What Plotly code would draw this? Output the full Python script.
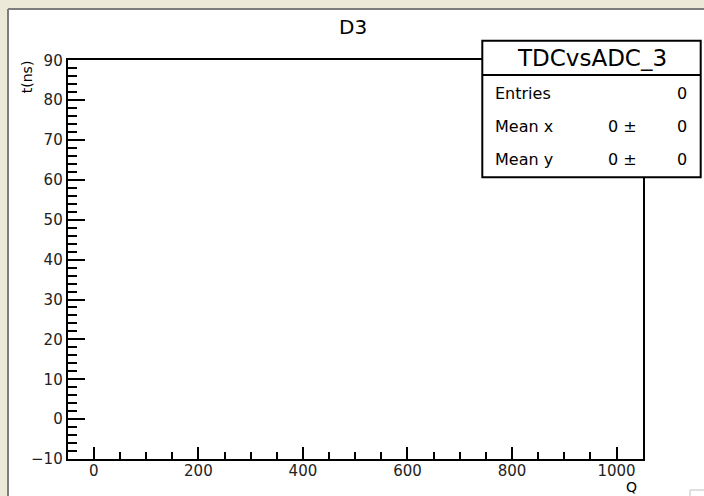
import plotly.graph_objects as go

# Histogram contents (no entries recorded for this channel)
q_values = []          # charge, Q
t_values = []          # time, t(ns)

hist_name = "TDCvsADC_3"
pad_title = "D3"
x_title = "Q"
y_title = "t(ns)"

x_range = [-50, 1050]
y_range = [-10, 90]
x_ticks = [0, 200, 400, 600, 800, 1000]
y_ticks = [-10, 0, 10, 20, 30, 40, 50, 60, 70, 80, 90]


def mean(vals):
    return sum(vals) / len(vals) if vals else 0


def mean_err(vals):
    n = len(vals)
    if n < 2:
        return 0
    m = mean(vals)
    return (sum((v - m) ** 2 for v in vals) / n) ** 0.5 / n ** 0.5


def fmt(v):
    return f"{v:g}"


entries = len(q_values)
stats_rows = [
    ("Entries", None, fmt(entries)),
    ("Mean x", fmt(mean(q_values)) + " \u00b1", fmt(mean_err(q_values))),
    ("Mean y", fmt(mean(t_values)) + " \u00b1", fmt(mean_err(t_values))),
]

W, H = 704, 496
FONT = "DejaVu Sans"


def px(x):
    return x / W


def py(y):
    return 1 - y / H


# frame edges in pixels
fx0, fx1, fy0, fy1 = 67.7, 642.7, 60.3, 459.0

fig = go.Figure()
fig.add_trace(go.Scatter(x=q_values, y=t_values, mode="markers",
                         marker=dict(color="black", size=2), showlegend=False))

axis_common = dict(
    showgrid=False, zeroline=False, showline=True, linecolor="black",
    linewidth=2, mirror=True, ticks="inside", tickcolor="black",
    tickwidth=1.5, tickfont=dict(family=FONT, size=15, color="#222"),
    automargin=False,
)

fig.update_layout(
    width=W, height=H,
    margin=dict(l=0, r=0, t=0, b=0, pad=0, autoexpand=False),
    paper_bgcolor="#ECE9D8",
    plot_bgcolor="white",
    showlegend=False,
    xaxis=dict(
        domain=[px(fx0), px(fx1)], range=x_range, tickvals=x_ticks,
        ticklen=12, ticklabelstandoff=-3,
        minor=dict(dtick=50, tick0=0, ticks="inside", ticklen=7,
                   tickcolor="black", tickwidth=1.5),
        **axis_common,
    ),
    yaxis=dict(
        domain=[py(fy1), py(fy0)], range=y_range, tickvals=y_ticks,
        ticklen=17,
        minor=dict(dtick=2, tick0=0, ticks="inside", ticklen=9,
                   tickcolor="black", tickwidth=1.5),
        **axis_common,
    ),
)

shapes = []
# pad: white area with sunken grey border
shapes.append(dict(type="rect", xref="paper", yref="paper", layer="below",
                   x0=px(8), x1=px(W + 5), y0=py(H + 5), y1=py(9),
                   fillcolor="white", line=dict(width=0)))
shapes.append(dict(type="line", xref="paper", yref="paper", layer="below",
                   x0=px(8), x1=px(W + 5), y0=py(9), y1=py(9),
                   line=dict(color="#7d7d7d", width=2)))
shapes.append(dict(type="line", xref="paper", yref="paper", layer="below",
                   x0=px(8), x1=px(8), y0=py(9), y1=py(H + 5),
                   line=dict(color="#7d7d7d", width=2)))
# small neighbouring pad corner at lower right
shapes.append(dict(type="line", xref="paper", yref="paper",
                   x0=px(690), x1=px(W + 2), y0=py(490), y1=py(490),
                   line=dict(color="#d4d4d4", width=1.5)))
shapes.append(dict(type="line", xref="paper", yref="paper",
                   x0=px(690), x1=px(690), y0=py(490), y1=py(H + 2),
                   line=dict(color="#d4d4d4", width=1.5)))

# statistics box
sx0, sx1, sy0, sy1, ssep = 482.3, 700.7, 40.7, 177.3, 75.0
shapes.append(dict(type="rect", xref="paper", yref="paper",
                   x0=px(sx0), x1=px(sx1), y0=py(sy1), y1=py(sy0),
                   fillcolor="white", line=dict(color="black", width=2)))
shapes.append(dict(type="line", xref="paper", yref="paper",
                   x0=px(sx0), x1=px(sx1), y0=py(ssep), y1=py(ssep),
                   line=dict(color="black", width=2)))

annotations = []


def text(s, x, y, size, xanchor="center", textangle=0):
    annotations.append(dict(text=s, xref="paper", yref="paper",
                            x=px(x), y=py(y), xanchor=xanchor, yanchor="middle",
                            showarrow=False, textangle=textangle,
                            font=dict(family=FONT, size=size, color="black")))


text(pad_title, 352.7, 26.5, 20)
text(hist_name, (sx0 + sx1) / 2, 58.5, 23)
row_y = [94.0, 126.7, 159.0]
for (label, mid, val), yy in zip(stats_rows, row_y):
    text(label, 493.0, yy, 16, xanchor="left")
    if mid is not None:
        text(mid, 639.0, yy, 16, xanchor="right")
    text(val, 689.0, yy, 16, xanchor="right")

text(y_title, 26.7, 76.5, 14, textangle=-90)
text(x_title, 639.0, 487.0, 14, xanchor="right")

fig.update_layout(shapes=shapes, annotations=annotations)
fig.write_html("out.html", config={"displayModeBar": False})
